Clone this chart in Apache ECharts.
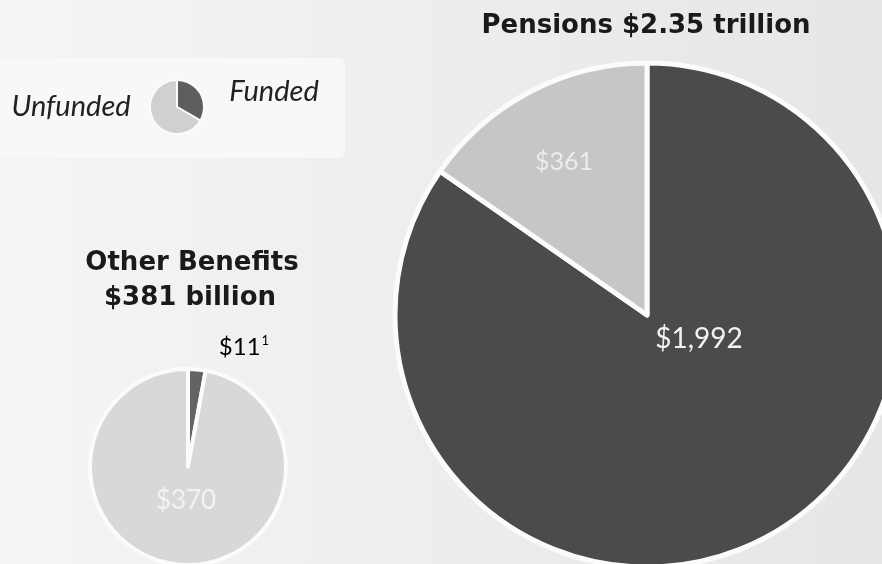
<!DOCTYPE html>
<html>
<head>
<meta charset="utf-8">
<script src="https://cdn.jsdelivr.net/npm/echarts@6/dist/echarts.min.js"></script>
<style>
html,body{margin:0;padding:0;background:#ececec;}
#chart{width:882px;height:564px;}
</style>
</head>
<body>
<div id="chart"></div>
<script>
// Data (billions of dollars)
const pensionCategories = ['Funded', 'Unfunded'];
const pensionValues = [1992, 361];
const otherCategories = ['Funded', 'Unfunded'];
const otherValues = [11, 370];
const legendCategories = ['Funded', 'Unfunded'];
const legendValues = [1, 2];
const pensionTitle = 'Pensions $2.35 trillion';
const otherTitle = ['Other Benefits', '$381 billion'];

const chart = echarts.init(document.getElementById('chart'), null, {renderer: 'canvas'});
const FONT = 'Lato, "Open Sans", sans-serif';
const TFONT = '"DejaVu Sans", sans-serif';
const fmt = v => '$' + v.toLocaleString('en-US');

const darkBig = '#4b4b4b', lightBig = '#c6c6c6';
const darkSmall = '#636363', lightSmall = '#d8d8d8';

function pieData(cats, vals, dark, light) {
  return cats.map((c, i) => ({name: c, value: vals[i], itemStyle: {color: c === 'Funded' ? dark : light}}));
}

const option = {
  backgroundColor: {
    type: 'linear', x: 0, y: 0, x2: 1, y2: 0,
    colorStops: [{offset: 0, color: '#f5f5f5'}, {offset: 0.45, color: '#eeeeee'}, {offset: 1, color: '#e6e6e6'}]
  },
  animation: false,
  graphic: [
    {type: 'rect', z: -1, shape: {x: 0, y: 58, width: 345, height: 100, r: 6}, style: {fill: '#f8f8f8'}},
    {type: 'text', x: 646, y: 26, style: {text: pensionTitle, font: 'bold 26px ' + TFONT, fill: '#1a1a1a', align: 'center', verticalAlign: 'middle'}},
    {type: 'text', x: 192, y: 263, style: {text: otherTitle[0], font: 'bold 26px ' + TFONT, fill: '#1a1a1a', align: 'center', verticalAlign: 'middle'}},
    {type: 'text', x: 190, y: 298, style: {text: otherTitle[1], font: 'bold 26px ' + TFONT, fill: '#1a1a1a', align: 'center', verticalAlign: 'middle'}},
    {type: 'text', x: 71, y: 107, style: {text: 'Unfunded', font: 'italic 29px ' + FONT, fill: '#222', align: 'center', verticalAlign: 'middle'}},
    {type: 'text', x: 274, y: 92, style: {text: 'Funded', font: 'italic 29px ' + FONT, fill: '#222', align: 'center', verticalAlign: 'middle'}},
    {type: 'text', x: 564, y: 162, z: 10, style: {text: fmt(pensionValues[1]), font: '25px ' + FONT, fill: '#ececec', align: 'center', verticalAlign: 'middle'}},
    {type: 'text', x: 699, y: 339, z: 10, style: {text: fmt(pensionValues[0]), font: '28px ' + FONT, fill: '#f2f2f2', align: 'center', verticalAlign: 'middle'}},
    {type: 'text', x: 186, y: 501, z: 10, style: {text: fmt(otherValues[1]), font: '26px ' + FONT, fill: '#f3f3f3', align: 'center', verticalAlign: 'middle'}},
    {type: 'text', x: 244, y: 347, z: 10, style: {
      text: '{a|' + fmt(otherValues[0]) + '}{s|1}', align: 'center', verticalAlign: 'middle',
      rich: {a: {font: '24px ' + FONT, color: '#222'}, s: {font: '13px ' + FONT, color: '#222', verticalAlign: 'top', padding: [0, 0, 12, 1]}}
    }}
  ],
  series: [
    {
      type: 'pie', center: [647, 315], radius: [0, 252], startAngle: 90, clockwise: true,
      label: {show: false}, labelLine: {show: false}, silent: true,
      itemStyle: {borderColor: '#fbfbfb', borderWidth: 5},
      data: pieData(pensionCategories, pensionValues, darkBig, lightBig)
    },
    {
      type: 'pie', center: [188, 467], radius: [0, 98], startAngle: 90, clockwise: true,
      label: {show: false}, labelLine: {show: false}, silent: true,
      itemStyle: {borderColor: '#fbfbfb', borderWidth: 4},
      data: pieData(otherCategories, otherValues, darkSmall, lightSmall)
    },
    {
      type: 'pie', center: [177, 107], radius: [0, 27], startAngle: 90, clockwise: true,
      label: {show: false}, labelLine: {show: false}, silent: true,
      itemStyle: {borderColor: '#fbfbfb', borderWidth: 2},
      data: pieData(legendCategories, legendValues, '#5e5e5e', '#d0d0d0')
    }
  ]
};
chart.setOption(option);
</script>
</body>
</html>
